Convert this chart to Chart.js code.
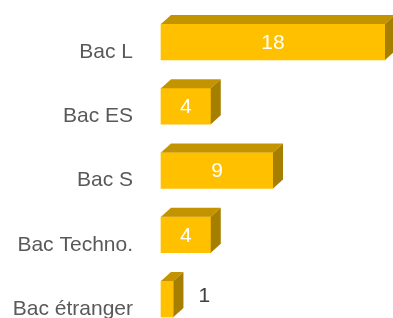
<!DOCTYPE html>
<html lang="fr">
<head>
<meta charset="utf-8">
<title>Bac</title>
<script src="https://cdn.jsdelivr.net/npm/chart.js@4"></script>
<style>
    html, body { margin: 0; padding: 0; background: #fff; overflow: hidden; }
    canvas { display: block; }
</style>
</head>
<body>
<canvas id="bacChart" width="393" height="318"></canvas>
<script>
// Chart data
const categories = ['Bac L', 'Bac ES', 'Bac S', 'Bac Techno.', 'Bac étranger'];
const counts = [18, 4, 9, 4, 1];
const axisMax = 18;

const FONT = '"Liberation Sans", Arial, sans-serif';
const FRONT = '#FFC000';
const TOP = '#C49300';
const SIDE = '#A67E00';
const DEPTH_X = 10;
const DEPTH_Y = 9;

// Draws the top and right faces of each bar, then the value labels
const bar3dPlugin = {
    id: 'bar3d',
    afterDatasetsDraw(chart) {
        const ctx = chart.ctx;
        const meta = chart.getDatasetMeta(0);
        ctx.save();
        meta.data.forEach((bar, i) => {
            const top = bar.y - bar.height / 2;
            const bottom = bar.y + bar.height / 2;
            const left = bar.base;
            const right = bar.x;

            // top face
            ctx.fillStyle = TOP;
            ctx.beginPath();
            ctx.moveTo(left, top);
            ctx.lineTo(left + DEPTH_X, top - DEPTH_Y);
            ctx.lineTo(right + DEPTH_X, top - DEPTH_Y);
            ctx.lineTo(right, top);
            ctx.closePath();
            ctx.fill();

            // right face
            ctx.fillStyle = SIDE;
            ctx.beginPath();
            ctx.moveTo(right, top);
            ctx.lineTo(right + DEPTH_X, top - DEPTH_Y);
            ctx.lineTo(right + DEPTH_X, bottom - DEPTH_Y);
            ctx.lineTo(right, bottom);
            ctx.closePath();
            ctx.fill();

            // value label
            const text = String(counts[i]);
            ctx.font = '21px ' + FONT;
            ctx.textBaseline = 'middle';
            const w = ctx.measureText(text).width;
            if (right - left > w + 8) {
                ctx.fillStyle = '#FFFFFF';
                ctx.textAlign = 'center';
                ctx.fillText(text, (left + right) / 2, bar.y + 1);
            } else {
                ctx.fillStyle = '#404040';
                ctx.textAlign = 'left';
                ctx.fillText(text, right + 25, bar.y - 3);
            }
        });
        ctx.restore();
    }
};

new Chart(document.getElementById('bacChart'), {
    type: 'bar',
    data: {
        labels: categories,
        datasets: [{
            data: counts,
            backgroundColor: FRONT,
            borderWidth: 0,
            barThickness: 36,
            clip: false
        }]
    },
    options: {
        indexAxis: 'y',
        responsive: false,
        animation: false,
        layout: { padding: { top: 42, bottom: 19, left: 0, right: 8 } },
        plugins: {
            legend: { display: false },
            tooltip: { enabled: false }
        },
        scales: {
            x: { display: false, min: 0, max: axisMax },
            y: {
                offset: false,
                grid: { display: false, drawTicks: false },
                border: { display: false },
                ticks: {
                    color: '#595959',
                    font: { family: FONT, size: 21 },
                    padding: 28,
                    labelOffset: 10,
                    autoSkip: false
                },
                afterFit(scale) {
                    scale.width = 161;
                    // labels may overflow the chart area, keep bars on a fixed grid
                    scale.paddingTop = 0;
                    scale.paddingBottom = 0;
                }
            }
        }
    },
    plugins: [bar3dPlugin]
});
</script>
</body>
</html>
